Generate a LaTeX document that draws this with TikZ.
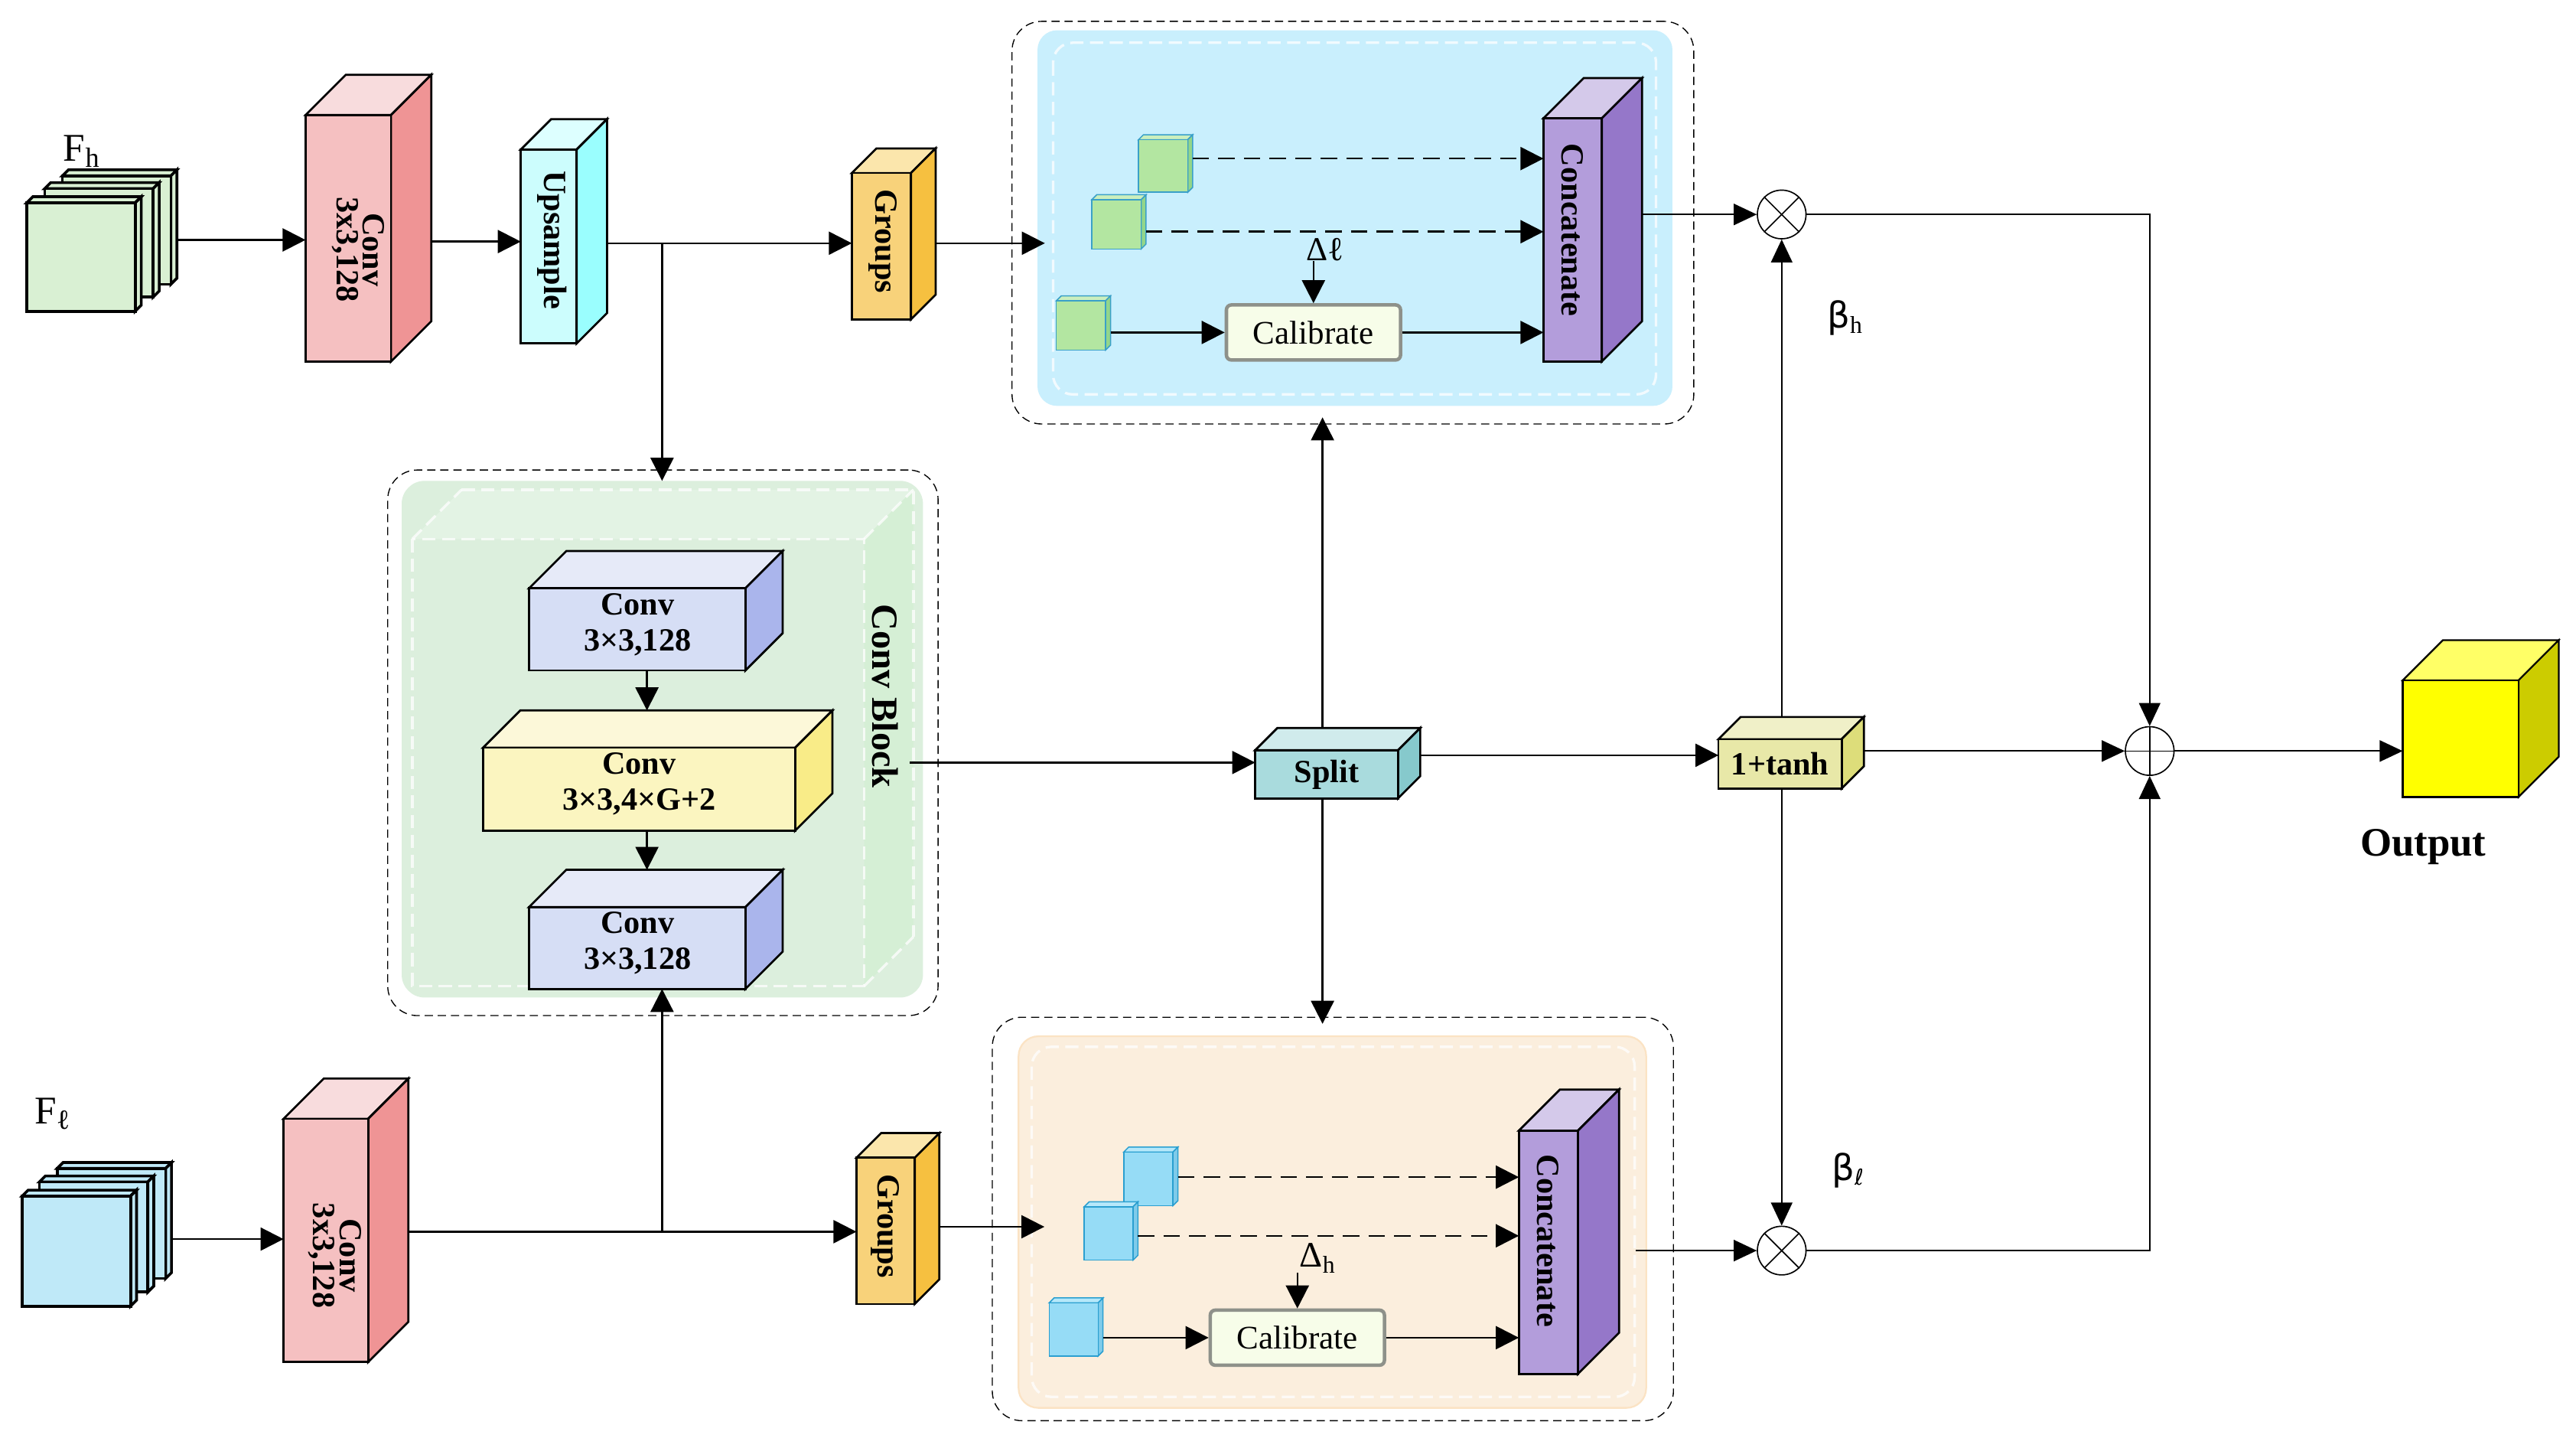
\documentclass[tikz,border=0pt]{standalone}
\usepackage{fontspec}
\setmainfont{Liberation Serif}
\newfontfamily\dvs{DejaVu Sans}
\usetikzlibrary{arrows.meta}

\definecolor{fhF}{HTML}{D9F0D3}\definecolor{fhT}{HTML}{D9F0D3}\definecolor{fhS}{HTML}{D9F0D3}
\definecolor{flF}{HTML}{BFE9F8}\definecolor{flT}{HTML}{BFE9F8}\definecolor{flS}{HTML}{BFE9F8}
\definecolor{redF}{HTML}{F5C0C1}\definecolor{redT}{HTML}{F8DCDD}\definecolor{redS}{HTML}{EF9495}
\definecolor{upsF}{HTML}{CCFDFD}\definecolor{upsT}{HTML}{DDFFFF}\definecolor{upsS}{HTML}{9AFEFE}
\definecolor{grpF}{HTML}{F8D27A}\definecolor{grpT}{HTML}{FBE6AC}\definecolor{grpS}{HTML}{F6C040}
\definecolor{catF}{HTML}{B39DDB}\definecolor{catT}{HTML}{D4C9EA}\definecolor{catS}{HTML}{9577C9}
\definecolor{cvbF}{HTML}{D6DEF5}\definecolor{cvbT}{HTML}{E6EAF8}\definecolor{cvbS}{HTML}{AAB5EC}
\definecolor{cvyF}{HTML}{FBF5C0}\definecolor{cvyT}{HTML}{FCF8D9}\definecolor{cvyS}{HTML}{F9EC88}
\definecolor{splF}{HTML}{A9DBDD}\definecolor{splT}{HTML}{D0EBEC}\definecolor{splS}{HTML}{86C9CC}
\definecolor{tnhF}{HTML}{E8E8A8}\definecolor{tnhT}{HTML}{F0F0C8}\definecolor{tnhS}{HTML}{DDDD7A}
\definecolor{outF}{HTML}{FFFF00}\definecolor{outT}{HTML}{FFFF66}\definecolor{outS}{HTML}{CCCC00}
\definecolor{gcbF}{HTML}{B3E6A1}\definecolor{gcbT}{HTML}{CBEFBE}\definecolor{gcbS}{HTML}{93D68A}
\definecolor{bcbF}{HTML}{96DCF6}\definecolor{bcbT}{HTML}{B6E8FA}\definecolor{bcbS}{HTML}{7FCBEA}
\definecolor{gcbline}{HTML}{3AA0C8}\definecolor{bcbline}{HTML}{2A9FD0}
\definecolor{bluepan}{HTML}{C9EFFD}
\definecolor{orpan}{HTML}{FBEEDD}\definecolor{orline}{HTML}{FBE3C4}
\definecolor{cbg}{HTML}{DCEFDD}\definecolor{cbgtop}{HTML}{E3F3E4}\definecolor{cbgright}{HTML}{D5EFD5}
\definecolor{calfill}{HTML}{F7FDE9}\definecolor{calline}{HTML}{8E918A}

\tikzset{
  bl/.style={draw=black, line width=1.8pt, line join=miter},
  sheet/.style={draw=black, line width=2.4pt, line join=miter},
  gsm/.style={draw=gcbline, line width=1pt},
  bsm/.style={draw=bcbline, line width=1pt},
  arr/.style={-{Triangle[length=7mm,width=7mm]}, line width=1.6pt},
  tarr/.style={-{Triangle[length=7mm,width=6.5mm]}, line width=1.2pt},
  darr/.style={arr, line width=1.7pt, dash pattern=on 5mm off 2.8mm},
  panel/.style={draw=black, line width=0.9pt, dash pattern=on 2.5mm off 1.5mm, rounded corners=9mm, inner sep=0pt, outer sep=0pt},
  wdash/.style={draw=white, line width=2.2pt, dash pattern=on 4mm off 2mm, opacity=0.75},
  lbl/.style={font=\fontsize{28}{23}\selectfont\bfseries, align=center, inner sep=0pt},
  lblb/.style={font=\fontsize{28}{31}\selectfont\bfseries, align=center, inner sep=0pt},
  calib/.style={draw=calline, line width=3pt, fill=calfill, rounded corners=1.5mm,
    minimum width=106*0.5mm, minimum height=33.5*0.5mm, inner sep=0pt,
    font=\fontsize{28.5}{28.5}\selectfont},
  circ/.style={circle, draw, line width=1.1pt, minimum size=29.6*0.5mm, inner sep=0pt},
}

% #1 style, #2 name, #3 x, #4 y (top-left of front face), #5 w, #6 h, #7 depth, #8 colour prefix
\newcommand\cub[8][bl]{%
  \draw[#1, fill=#8T] (#3,#4) -- ++(#7,-#7) -- ++(#5,0) -- ++(-#7,#7) -- cycle;
  \draw[#1, fill=#8S] ({#3+#5},#4) -- ++(#7,-#7) -- ++(0,#6) -- ++(-#7,#7) -- cycle;
  \node[#1, fill=#8F, minimum width=#5*0.5mm, minimum height=#6*0.5mm, inner sep=0pt, outer sep=0pt]
    (#2) at ({#3+#5/2},{#4+#6/2}) {};
}

\begin{document}
\begin{tikzpicture}[x=0.5mm,y=-0.5mm]
\useasboundingbox (0,0) rectangle (1568,875);
\fill[white] (0,0) rectangle (1568,875);

% ---------- panels ----------
\node[panel, minimum width=415*0.5mm, minimum height=245*0.5mm] (toppo) at (823.5,135.5) {};
\node[fill=bluepan, rounded corners=6mm, minimum width=386.5*0.5mm, minimum height=228.6*0.5mm, inner sep=0pt, outer sep=0pt] (toppanel) at (824.75,132.7) {};
\draw[wdash, rounded corners=6mm] (641,26) rectangle (1008,240);

\node[panel, minimum width=414.6*0.5mm, minimum height=245.5*0.5mm] (botpo) at (811.3,741.75) {};
\node[fill=orpan, draw=orline, line width=1.5pt, rounded corners=6mm, minimum width=382*0.5mm, minimum height=226.1*0.5mm, inner sep=0pt, outer sep=0pt] (botpanel) at (811,743.65) {};
\draw[wdash, rounded corners=6mm] (628,637) rectangle (995,850);

\node[panel, minimum width=335*0.5mm, minimum height=332*0.5mm] (cbo) at (403.5,452) {};
\node[fill=cbg, rounded corners=7mm, minimum width=317.3*0.5mm, minimum height=314.4*0.5mm, inner sep=0pt, outer sep=0pt] (cblock) at (403.15,449.8) {};
\fill[cbgtop] (251,328) -- (281,298) -- (556,298) -- (526,328) -- cycle;
\fill[cbgright] (526,328) -- (556,298) -- (556,570) -- (526,600) -- cycle;
\draw[wdash] (251,328) rectangle (526,600);
\draw[wdash] (281,298) -- (556,298) -- (556,570);
\draw[wdash] (251,328) -- (281,298);
\draw[wdash] (526,328) -- (556,298);
\draw[wdash] (526,600) -- (556,570);
\node[font=\fontsize{32}{32}\selectfont\bfseries, rotate=-90, inner sep=0pt] (cbl) at (538.7,423.5) {Conv Block};

% ---------- input stacks ----------
\cub[sheet]{fhc}{38}{107}{66}{66}{3.7}{fh}
\cub[sheet]{fhb}{27.2}{114.8}{66}{66}{3.7}{fh}
\cub[sheet]{fha}{16.3}{123.4}{66}{66}{3.7}{fh}
\node[anchor=base west, inner sep=0pt] (fhl) at (38.5,97.8) {\fontsize{34}{34}\selectfont F\raisebox{-5.5pt}{\fontsize{24}{24}\selectfont h}};

\cub[sheet]{flc}{34.8}{711}{66}{67}{3.6}{fl}
\cub[sheet]{flb}{24}{719.2}{66}{67}{3.6}{fl}
\cub[sheet]{fla}{13.5}{727.8}{66}{67}{3.6}{fl}
\node[anchor=base west, inner sep=0pt] (fll) at (21,683.8) {\fontsize{34}{34}\selectfont F\raisebox{-4.5pt}{\fontsize{24}{24}\selectfont ℓ}};

% ---------- top row ----------
\cub{convh}{186}{70}{52}{150}{24.5}{red}
\node[lbl, rotate=-90] at (218,152) {Conv\\3x3,128};
\cub{ups}{317}{91}{34}{118}{18.5}{ups}
\node[lbl, rotate=-90] at (336,146) {Upsample};
\cub{grh}{518.5}{105.3}{36}{89}{15}{grp}
\node[lbl, rotate=-90] at (537.5,147) {Groups};

% ---------- bottom row ----------
\cub{convl}{172.6}{680.8}{51.5}{148}{24.5}{red}
\node[lbl, rotate=-90] at (204,764) {Conv\\3x3,128};
\cub{grl}{521.3}{704.5}{35.5}{89}{15}{grp}
\node[lbl, rotate=-90] at (539,746) {Groups};

% ---------- conv block ----------
\cub{cv1}{322}{358}{131.7}{50}{22.7}{cvb}
\node[lblb] at (388,380) {Conv\\3×3,128};
\cub{cv2}{294}{455}{190}{50.5}{22.7}{cvy}
\node[lblb] at (389,477) {Conv\\3×3,4×G+2};
\cub{cv3}{322}{552}{131.7}{49.8}{22.7}{cvb}
\node[lblb] at (388,574) {Conv\\3×3,128};

% ---------- top panel content ----------
\cub[gsm]{gc1}{693}{85}{30}{32}{3}{gcb}
\cub[gsm]{gc2}{664.6}{121.5}{30}{30}{3}{gcb}
\cub[gsm]{gc3}{643}{183}{30}{30}{3}{gcb}
\node[calib] (calh) at (799.5,202.3) {Calibrate};
\cub{cath}{939.5}{72}{35.5}{148}{24.5}{cat}
\node[lbl, rotate=-90] at (957,140) {Concatenate};
\node[anchor=base west, inner sep=0pt, font=\fontsize{29}{29}\selectfont] (dl) at (795,158.5) {Δℓ};

% ---------- bottom panel content ----------
\cub[bsm]{bc1}{684}{701}{30}{32.6}{3}{bcb}
\cub[bsm]{bc2}{660}{734.3}{29.7}{32.5}{3}{bcb}
\cub[bsm]{bc3}{638.6}{792.8}{29.8}{32.4}{3}{bcb}
\node[calib] (call) at (789.7,814) {Calibrate};
\cub{catl}{924.5}{688}{36}{148}{25}{cat}
\node[lbl, rotate=-90] at (942,755) {Concatenate};
\node[anchor=base west, inner sep=0pt] (dh) at (791,771) {\fontsize{31}{31}\selectfont Δ\raisebox{-5pt}{\fontsize{21}{21}\selectfont h}};

% ---------- middle ----------
\cub{split}{764}{456.5}{87}{29.3}{13.5}{spl}
\node[lbl] at (807.5,471.5) {Split};
\cub{tanh}{1046}{449.8}{75}{30}{13.5}{tnh}
\node[lbl] at (1083.5,465) {1+tanh};

% ---------- right ----------
\node[circ] (mh) at (1084.5,130.5) {};
\draw[line width=1.1pt] (mh.north west) -- (mh.south east) (mh.north east) -- (mh.south west);
\node[circ] (ml) at (1084.5,761) {};
\draw[line width=1.1pt] (ml.north west) -- (ml.south east) (ml.north east) -- (ml.south west);
\node[circ] (ad) at (1308.5,457) {};
\draw[line width=1.1pt] (ad.north) -- (ad.south) (ad.west) -- (ad.east);
\cub[draw=black, line width=1.5pt]{outc}{1462.5}{414}{70.5}{71}{24.5}{out}
\node[anchor=base, inner sep=0pt, font=\fontsize{35}{35}\selectfont\bfseries] (outl) at (1475,521) {Output};
\node[anchor=base west, inner sep=0pt] (bh) at (1112,199.5) {\dvs\fontsize{31}{31}\selectfont β\raisebox{-5pt}{\rmfamily\fontsize{21}{21}\selectfont h}};
\node[anchor=base west, inner sep=0pt] (bl) at (1115,718.5) {\dvs\fontsize{31}{31}\selectfont β\raisebox{-4pt}{\fontsize{19}{19}\selectfont ℓ}};

% ---------- connectors ----------
\coordinate (fh-o) at (107.7,146);
\draw[arr] (fh-o) -- (convh.west |- fh-o);
\coordinate (convh-o) at (262.5,147);
\draw[arr] (convh-o) -- (ups.west |- convh-o);
\coordinate (ups-o) at (369.5,148);
\draw[arr] (ups-o) -- (grh.west |- ups-o);
\coordinate (br1) at (403,148);
\draw[arr] (br1) -- (br1 |- cblock.north);
\coordinate (grh-o) at (569.5,148);
\coordinate (tp-in) at (636,148);
\draw[arr] (grh-o) -- (tp-in);

\coordinate (gc1-o) at (726,96.5);
\draw[darr] (gc1-o) -- (cath.west |- gc1-o);
\coordinate (gc2-o) at (697.5,141);
\draw[darr] (gc2-o) -- (cath.west |- gc2-o);
\coordinate (gc3-o) at (676,202.3);
\draw[arr] (gc3-o) -- (calh.west);
\draw[arr] (calh.east) -- (cath.west |- calh.east);
\draw[arr] (calh.north |- dl.south) -- (calh.north);

\coordinate (cath-o) at (999.5,130.5);
\draw[tarr] (cath-o) -- (mh.west);

\coordinate (cv1-b) at (393.8,408);
\coordinate (cv2-t) at (393.8,432.3);
\draw[arr] (cv1-b) -- (cv2-t);
\coordinate (cv2-b) at (393.8,505.5);
\coordinate (cv3-t) at (393.8,529.3);
\draw[arr] (cv2-b) -- (cv3-t);

\coordinate (cb-o) at (553.8,464);
\draw[arr] (cb-o) -- (split.west |- cb-o);
\coordinate (split-t) at (805,442.5);
\coordinate (split-tt) at (805,254);
\draw[arr] (split-t) -- (split-tt);
\coordinate (split-b) at (805,485.8);
\coordinate (split-bb) at (805,623);
\draw[arr] (split-b) -- (split-bb);
\coordinate (split-o) at (864.5,459.6);
\draw[arr] (split-o) -- (tanh.west |- split-o);

\coordinate (tanh-t) at (1084.5,436.3);
\draw[tarr] (tanh-t) -- (mh.south);
\coordinate (tanh-b) at (1084.5,479.8);
\draw[tarr] (tanh-b) -- (ml.north);
\coordinate (tanh-o) at (1134.5,457);
\draw[tarr] (tanh-o) -- (ad.west);
\draw[tarr] (mh.east) -| (ad.north);
\draw[tarr] (ml.east) -| (ad.south);
\draw[tarr] (ad.east) -- (outc.west |- ad.east);

\coordinate (fl-o) at (104.4,754);
\draw[arr] (fl-o) -- (convl.west |- fl-o);
\coordinate (convl-o) at (248.3,749.5);
\draw[arr] (convl-o) -- (grl.west |- convl-o);
\coordinate (br2) at (403,749.5);
\draw[arr] (br2) -- (br2 |- cv3.south);
\coordinate (grl-o) at (571.8,746.5);
\coordinate (bp-in) at (635.7,746.5);
\draw[arr] (grl-o) -- (bp-in);

\coordinate (bc1-o) at (717,716.3);
\draw[darr] (bc1-o) -- (catl.west |- bc1-o);
\coordinate (bc2-o) at (692.5,752);
\draw[darr] (bc2-o) -- (catl.west |- bc2-o);
\coordinate (bc3-o) at (671.5,814);
\draw[arr] (bc3-o) -- (call.west);
\draw[arr] (call.east) -- (catl.west |- call.east);
\coordinate (dh-a) at (789.7,774.5);
\draw[arr] (dh-a) -- (call.north);
\coordinate (catl-o) at (995.6,761);
\draw[tarr] (catl-o) -- (ml.west);
\end{tikzpicture}
\end{document}
